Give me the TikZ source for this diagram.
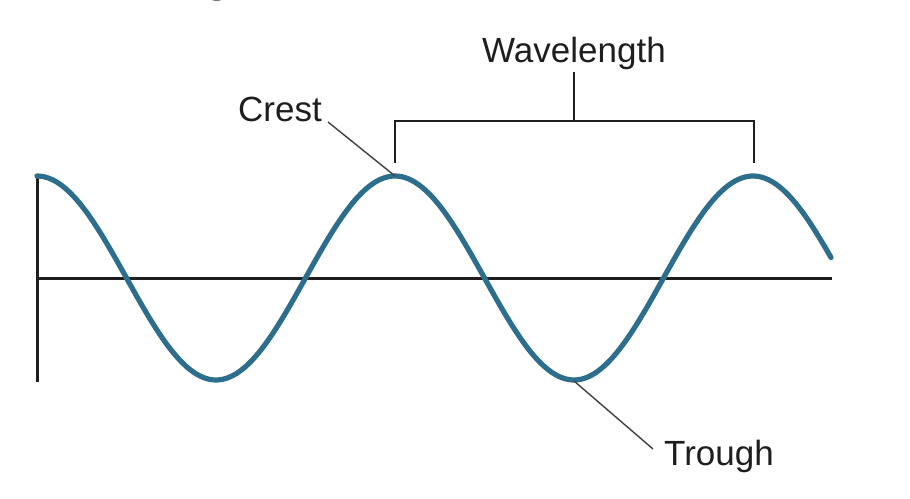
\documentclass[tikz,border=0pt]{standalone}
\usepackage{fontspec}
\setmainfont{Liberation Sans}
\definecolor{wave}{RGB}{44,110,140}
\definecolor{ink}{RGB}{30,30,30}
\begin{document}
\begin{tikzpicture}[x=0.5pt,y=-0.5pt,
  axis/.style={draw=ink,line width=1.5pt},
  brk/.style={draw=ink,line width=1.4pt},
  leader/.style={draw=ink!85,line width=0.7pt},
  lbl/.style={font=\fontsize{17.5}{20}\selectfont,text=ink,inner sep=0pt,anchor=base}]
\useasboundingbox (0,0) rectangle (910,498);
% cropped title fragment
\node[anchor=base,inner sep=0pt,font=\fontsize{25}{28}\selectfont\bfseries] (title) at (218,-10) {g};
% axes
\coordinate (vtop) at (37,174);
\coordinate (vbot) at (37,382);
\coordinate (hleft) at (37,278);
\coordinate (hright) at (832,278);
\draw[axis] (vtop) -- (vbot);
\draw[axis] (hleft) -- (hright);
% wave
\draw[wave,line width=2.6pt,line cap=round,line join=round]
  plot[domain=37:831,samples=240,smooth] (\x,{278-102*cos(1.005587*(\x-37))});
% crest / trough points
\coordinate (crest1) at (395,176);
\coordinate (crest2) at (753,176);
\coordinate (trough) at (574,381);
% wavelength bracket
\coordinate (bl) at (395,163);
\coordinate (br) at (754,163);
\coordinate (blt) at (395,121);
\coordinate (brt) at (754,121);
\coordinate (bmid) at (574,121);
\coordinate (btop) at (574,72);
\node[lbl] (wl) at (574,62) {Wavelength};
\draw[brk] (bl) -- (blt) -- (brt) -- (br);
\draw[brk] (bmid) -- (btop);
% labels
\node[lbl] (crestlbl) at (280,121) {Crest};
\node[lbl] (troughlbl) at (719,465) {Trough};
\coordinate (cl) at (328,122);
\coordinate (tl) at (653,449);
\draw[leader] (cl) -- (crest1);
\draw[leader] (trough) -- (tl);
\end{tikzpicture}
\end{document}
